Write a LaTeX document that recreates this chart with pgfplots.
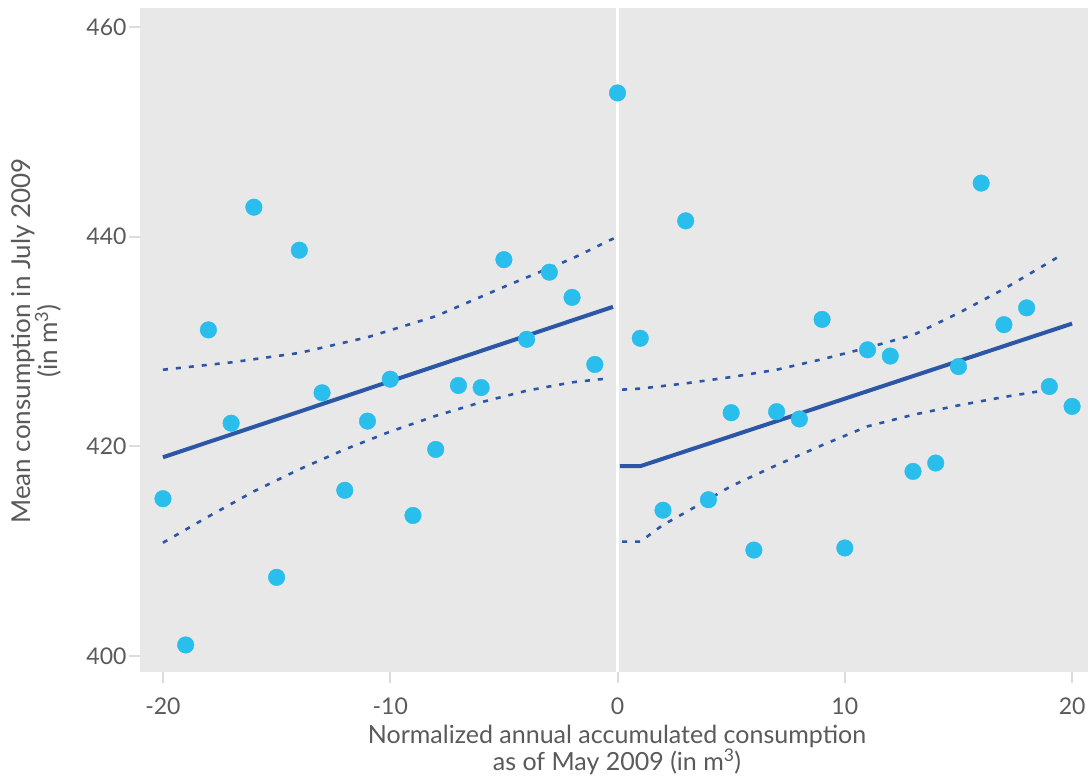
\documentclass[border=0pt]{standalone}
\usepackage{fontspec}
\setmainfont{Lato}
\usepackage{pgfplots}
\pgfplotsset{compat=1.18}
\definecolor{ptc}{HTML}{29BEEC}
\definecolor{lnc}{HTML}{2C56A6}
\definecolor{bgc}{HTML}{E8E8E8}
\definecolor{tkc}{HTML}{DCDCDC}
\definecolor{txtc}{HTML}{5A5A5A}
\begin{document}
\begin{tikzpicture}[x=1pt,y=1pt]
\useasboundingbox (0,0) rectangle (1088,-778);
\begin{axis}[
  at={(140pt,-672pt)}, anchor=south west,
  scale only axis, width=948pt, height=664pt,
  xmin=-21.01, xmax=20.70, ymin=398.47, ymax=461.8,
  axis background/.style={fill=bgc},
  axis line style={draw=none},
  tick align=outside,
  major tick length=11pt,
  tick style={tkc, line width=2pt},
  xtick={-20,-10,0,10,20}, ytick={400,420,440,460},
  xtick pos=left, ytick pos=left,
  ticklabel style={font=\fontsize{23}{26}\selectfont, text=txtc},
  yticklabel style={xshift=1pt},
  xticklabel style={yshift=-11pt},
  /pgf/number format/assume math mode=true,
]
\addplot[white, line width=2.5pt, forget plot] coordinates {(0,398.47) (0,461.8)};
% left fit
\addplot[lnc, line width=4pt] coordinates {(-20,418.95) (-0.2,433.3)};
\addplot[lnc, line width=2.6pt, dash pattern=on 5pt off 8pt] coordinates {
(-20,427.3) (-17,428.0) (-14,428.9) (-11,430.4) (-8,432.4) (-5,435.2) (-2,437.9) (-0.1,439.9)};
\addplot[lnc, line width=2.6pt, dash pattern=on 5pt off 8pt] coordinates {
(-20,410.8) (-18,413.3) (-16,415.7) (-14,417.8) (-12,419.7) (-10,421.4) (-8,422.9) (-6,424.2) (-4,425.3) (-2,426.1) (-0.3,426.5)};
% right fit
\addplot[lnc, line width=4pt] coordinates {(0.1,418.1) (1,418.1) (20,431.7)};
\addplot[lnc, line width=2.6pt, dash pattern=on 5pt off 8pt] coordinates {
(0.2,425.4) (1,425.5) (3,426.0) (5,426.6) (7,427.3) (9,428.3) (11,429.4) (13,430.6) (15,432.7) (17,435.0) (19.5,438.2)};
\addplot[lnc, line width=2.6pt, dash pattern=on 5pt off 8pt] coordinates {
(0.2,410.9) (1,410.9) (2,412.5) (3,413.7) (5,416.2) (7,418.2) (9,420.1) (11,421.9) (13,423.0) (15,423.9) (17,424.7) (19,425.4) (19.3,425.4)};
% points
\addplot[only marks, mark=*, mark size=8.3pt, mark options={fill=ptc, draw=ptc}] table {
x y
-20 415.0
-19 401.05
-18 431.1
-17 422.2
-16 442.8
-15 407.5
-14 438.7
-13 425.1
-12 415.8
-11 422.4
-10 426.4
-9 413.4
-8 419.7
-7 425.8
-6 425.6
-5 437.8
-4 430.2
-3 436.6
-2 434.2
-1 427.8
0 453.7
1 430.3
2 413.9
3 441.5
4 414.9
5 423.2
6 410.1
7 423.3
8 422.6
9 432.1
10 410.3
11 429.2
12 428.6
13 417.6
14 418.4
15 427.6
16 445.1
17 431.6
18 433.2
19 425.7
20 423.8
};
\end{axis}
\node[align=center, text=txtc, font=\fontsize{25}{25}\selectfont, anchor=center] at (617,-750) {Normalized annual accumulated consumption\\as of May 2009 (in m\textsuperscript{3})};
\node[align=center, text=txtc, font=\fontsize{26}{27}\selectfont, anchor=center, rotate=90] at (36,-341) {Mean consumption in July 2009\\(in m\textsuperscript{3})};
\end{tikzpicture}
\end{document}
